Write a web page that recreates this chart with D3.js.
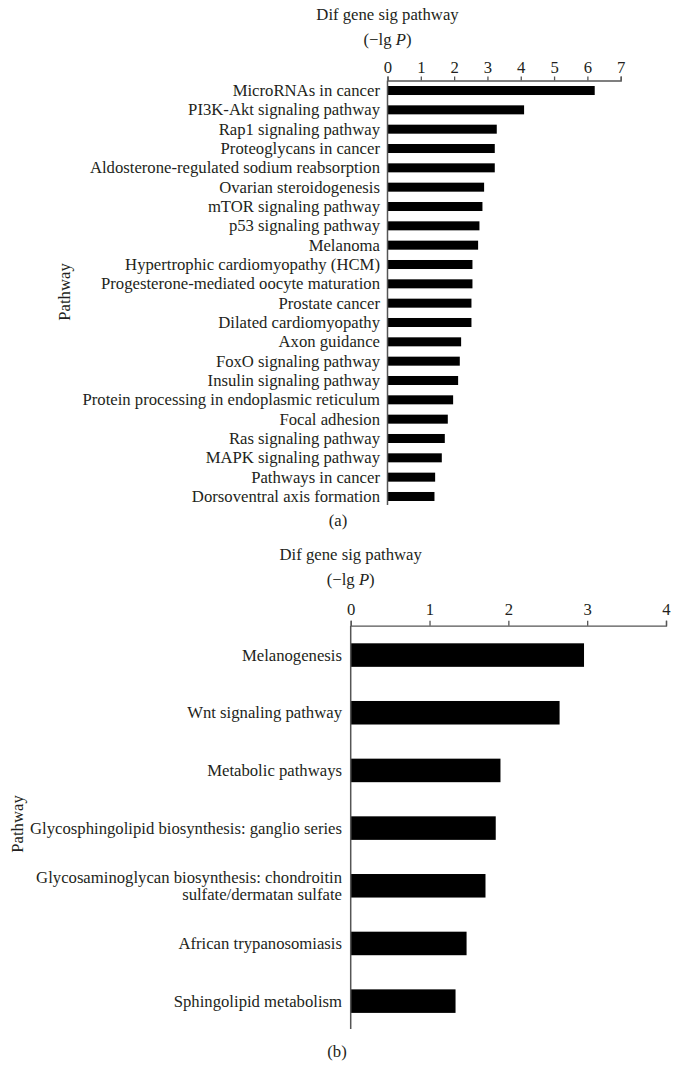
<!DOCTYPE html>
<html><head><meta charset="utf-8">
<script src="https://cdn.jsdelivr.net/npm/d3@7"></script>
<style>
html,body{margin:0;padding:0;background:#fff;}
svg text{font-family:"Liberation Serif","Times New Roman",serif;fill:#231f20;}
</style></head>
<body>
<svg id="c" width="679" height="1085"></svg>
<script>
const pathwaysA = ["MicroRNAs in cancer","PI3K-Akt signaling pathway","Rap1 signaling pathway","Proteoglycans in cancer","Aldosterone-regulated sodium reabsorption","Ovarian steroidogenesis","mTOR signaling pathway","p53 signaling pathway","Melanoma","Hypertrophic cardiomyopathy (HCM)","Progesterone-mediated oocyte maturation","Prostate cancer","Dilated cardiomyopathy","Axon guidance","FoxO signaling pathway","Insulin signaling pathway","Protein processing in endoplasmic reticulum","Focal adhesion","Ras signaling pathway","MAPK signaling pathway","Pathways in cancer","Dorsoventral axis formation"];
const valuesA = [6.22,4.10,3.28,3.22,3.22,2.90,2.85,2.76,2.72,2.55,2.55,2.52,2.52,2.21,2.17,2.12,1.97,1.81,1.72,1.63,1.43,1.41];
const ticksA = [0,1,2,3,4,5,6,7];

const pathwaysB = [["Melanogenesis"],["Wnt signaling pathway"],["Metabolic pathways"],["Glycosphingolipid biosynthesis: ganglio series"],["Glycosaminoglycan biosynthesis: chondroitin","sulfate/dermatan sulfate"],["African trypanosomiasis"],["Sphingolipid metabolism"]];
const valuesB = [2.96,2.65,1.90,1.84,1.71,1.47,1.33];
const ticksB = [0,1,2,3,4];

const titleText = "Dif gene sig pathway";
const svg = d3.select("#c");
const FS = 16.7;

function panel(cfg){
  const g = svg.append("g");
  const x = d3.scaleLinear().domain([0, cfg.ticks[cfg.ticks.length-1]]).range([cfg.x0, cfg.x1]);
  const y = d3.scaleBand().domain(d3.range(cfg.values.length)).range([cfg.yTop, cfg.yBot]).paddingInner(cfg.pad).paddingOuter(cfg.padOuter);
  g.append("text").attr("x", cfg.x0).attr("y", cfg.titleY).attr("text-anchor","middle").attr("font-size",FS).text(titleText);
  const t2 = g.append("text").attr("x", cfg.x0).attr("y", cfg.titleY + cfg.titleGap).attr("text-anchor","middle").attr("font-size",FS);
  t2.append("tspan").text("(\u2212lg ");
  t2.append("tspan").attr("font-style","italic").text("P");
  t2.append("tspan").text(")");
  const ax = g.append("g").attr("transform",`translate(0,${cfg.axisY})`)
    .call(d3.axisTop(x).tickValues(cfg.ticks).tickFormat(d3.format("d")).tickSize(cfg.tick).tickPadding(cfg.tickPad));
  ax.attr("font-family", null);
  ax.select(".domain").attr("stroke","#555").attr("stroke-width",1.3);
  ax.selectAll(".tick line").attr("stroke","#555").attr("stroke-width",1.3);
  ax.selectAll(".tick text").attr("font-size",FS).attr("fill","#231f20");
  g.selectAll("rect.bar").data(cfg.values).join("rect").attr("class","bar")
    .attr("x", x(0)).attr("y",(d,i)=>y(i)).attr("height", y.bandwidth())
    .attr("width", d=>x(d)-x(0)).attr("fill","#000");
  g.append("line").attr("x1",x(0)).attr("x2",x(0)).attr("y1",cfg.axisY).attr("y2",cfg.vBot).attr("stroke","#555").attr("stroke-width",1.5);
  cfg.labels.forEach((lab,i)=>{
    const lines = Array.isArray(lab)?lab:[lab];
    const cy = y(i)+y.bandwidth()/2;
    const t = g.append("text").attr("x", cfg.labelX).attr("text-anchor","end").attr("font-size",FS);
    lines.forEach((ln,k)=>{
      t.append("tspan").attr("x",cfg.labelX).attr("y", cy + 5.5 + (k - (lines.length-1)/2)*cfg.lineH).text(ln);
    });
  });
  g.append("text").attr("transform",`translate(${cfg.pathX},${cfg.pathY}) rotate(-90)`).attr("text-anchor","middle").attr("font-size",FS).text("Pathway");
  g.append("text").attr("x",cfg.capX).attr("y",cfg.capY).attr("text-anchor","middle").attr("font-size",FS).text(cfg.cap);
}

panel({values:valuesA, labels:pathwaysA, ticks:ticksA, x0:387.5, x1:620.7, axisY:80.5,
  yTop:81, yBot:506, pad:0.534, padOuter:0.259, tick:4, tickPad:4, titleY:20, titleGap:25,
  vBot:505, labelX:380, lineH:17.5, pathX:70, pathY:292, capX:338, capY:526, cap:"(a)"});

panel({values:valuesB, labels:pathwaysB, ticks:ticksB, x0:350.7, x1:666, axisY:625.7,
  yTop:626, yBot:1030.2, pad:0.592, padOuter:0.3, tick:5, tickPad:6, titleY:560, titleGap:25,
  vBot:1029, labelX:342, lineH:17.5, pathX:23, pathY:824, capX:337, capY:1057, cap:"(b)"});
</script>
</body></html>
